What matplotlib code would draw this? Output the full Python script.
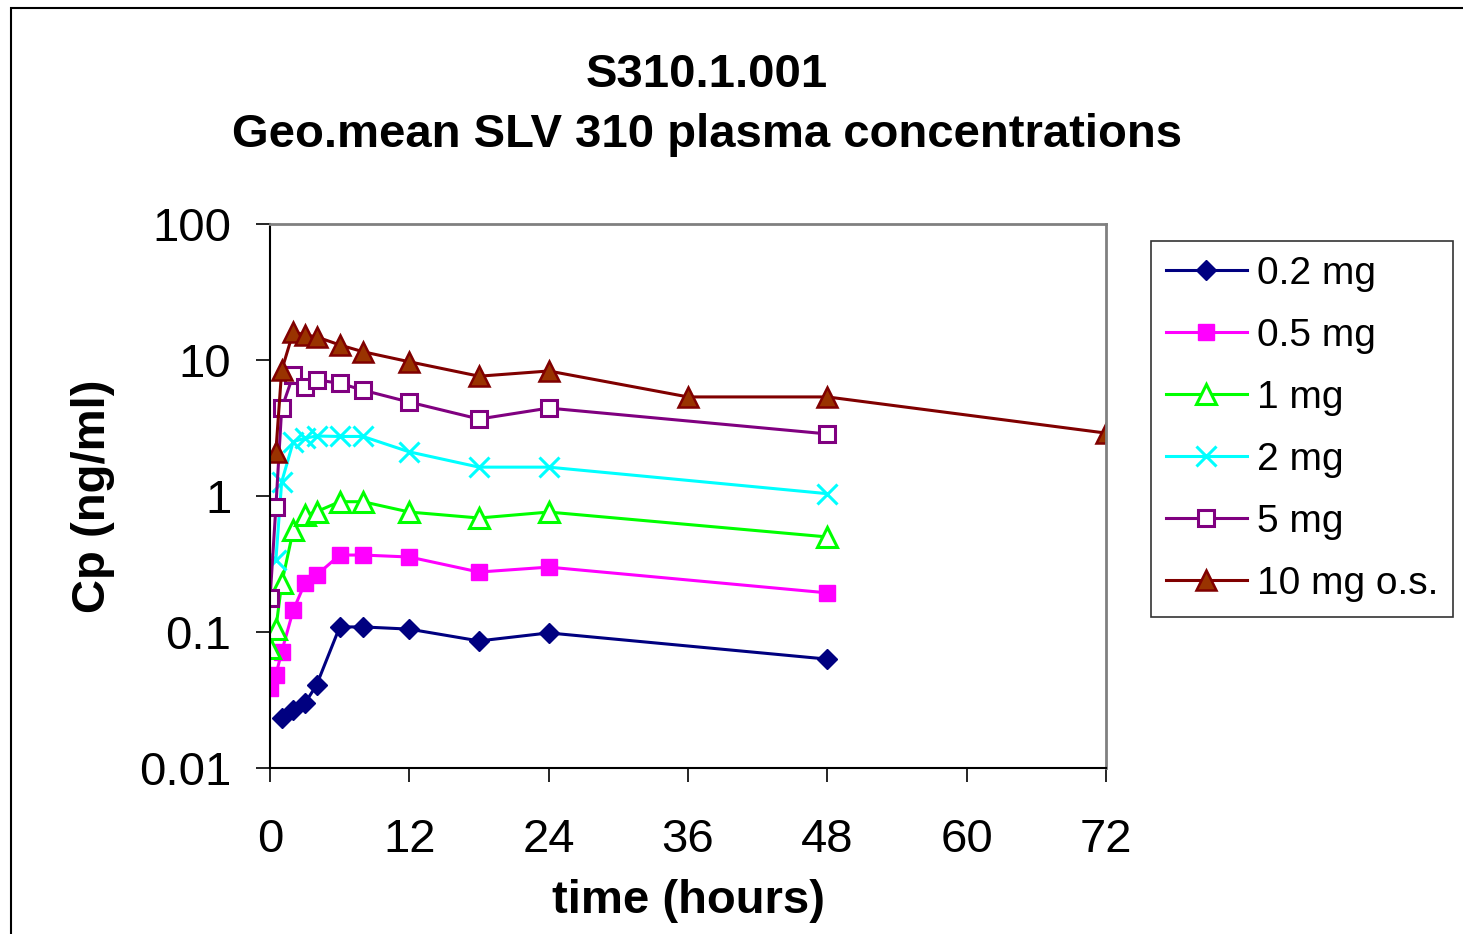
import matplotlib.pyplot as plt
from matplotlib.patches import Rectangle
from matplotlib.ticker import NullLocator

plt.rcParams['font.family'] = ['Liberation Sans', 'DejaVu Sans']

# sampling times (hours)
t_std = [0, 0.5, 1, 2, 3, 4, 6, 8, 12, 18, 24, 48]

# geo.mean concentrations (ng/ml)
t_02 = [1, 2, 3, 4, 6, 8, 12, 18, 24, 48]
cp_02 = [0.0232, 0.0267, 0.0299, 0.0407, 0.109, 0.109, 0.105, 0.086, 0.0985, 0.0632]

t_05 = t_std
cp_05 = [0.0386, 0.0483, 0.0716, 0.145, 0.228, 0.262, 0.368, 0.368, 0.356, 0.276, 0.30, 0.194]

t_1 = t_std
cp_1 = [0.0759, 0.106, 0.228, 0.562, 0.724, 0.767, 0.908, 0.908, 0.762, 0.689, 0.762, 0.50]

t_2 = [0.5, 1, 2, 3, 4, 6, 8, 12, 18, 24, 48]
cp_2 = [0.338, 1.27, 2.51, 2.66, 2.76, 2.74, 2.74, 2.11, 1.63, 1.63, 1.04]

t_5 = t_std
cp_5 = [0.177, 0.83, 4.4, 7.76, 6.37, 7.13, 6.75, 6.0, 4.9, 3.68, 4.43, 2.86]

t_10 = [0.5, 1, 2, 3, 4, 6, 8, 12, 18, 24, 36, 48, 72]
cp_10 = [2.12, 8.4, 16.1, 15.3, 14.8, 12.9, 11.5, 9.7, 7.6, 8.3, 5.35, 5.35, 2.9]

labels = ['0.2 mg', '0.5 mg', '1 mg', '2 mg', '5 mg', '10 mg o.s.']
x_ticks = [0, 12, 24, 36, 48, 60, 72]
y_ticks = [0.01, 0.1, 1, 10, 100]
y_tick_labels = ['0.01', '0.1', '1', '10', '100']

fig = plt.figure(figsize=(14.63, 9.34), dpi=100)
ax = fig.add_axes([0.1846, 0.1777, 0.5714, 0.5825])

# outer chart border
fig.patches.append(Rectangle((11 / 1463, -0.05), 1.2, 1 - 8 / 934 + 0.05,
                             transform=fig.transFigure, fill=False,
                             edgecolor='black', linewidth=1.5))

lw = 2.2
ax.plot(t_02, cp_02, color='#000080', lw=lw, marker='D', ms=10,
        mfc='#000080', mec='#000080', label=labels[0])
ax.plot(t_05, cp_05, color='#FF00FF', lw=lw, marker='s', ms=12,
        mfc='#FF00FF', mec='#FF00FF', label=labels[1])
ax.plot(t_1, cp_1, color='#00FF00', lw=lw, marker='^', ms=14,
        mfc='white', mec='#00FF00', mew=2.2, label=labels[2])
ax.plot(t_2, cp_2, color='#00FFFF', lw=lw, marker='x', ms=14,
        mec='#00FFFF', mew=2.2, label=labels[3])
ax.plot(t_5, cp_5, color='#800080', lw=lw, marker='s', ms=11.5,
        mfc='white', mec='#800080', mew=2.2, label=labels[4])
ax.plot(t_10, cp_10, color='#800000', lw=lw, marker='^', ms=14.5,
        mfc='#993300', mec='#800000', mew=1.8, label=labels[5])

ax.set_yscale('log')
ax.set_xlim(0, 72)
ax.set_ylim(0.01, 100)
ax.set_xticks(x_ticks)
ax.set_yticks(y_ticks)
ax.set_yticklabels(y_tick_labels)
ax.yaxis.set_minor_locator(NullLocator())

ax.tick_params(axis='both', direction='out', length=10, width=1.2, labelsize=34)
ax.tick_params(axis='y', pad=18)
ax.tick_params(axis='x', pad=26)

for s in ['top', 'right']:
    ax.spines[s].set_color('#808080')
    ax.spines[s].set_linewidth(2)
for s in ['left', 'bottom']:
    ax.spines[s].set_color('black')
    ax.spines[s].set_linewidth(1.5)

ax.set_xlabel('time (hours)', fontsize=34, fontweight='bold', labelpad=12)
ax.set_ylabel('Cp (ng/ml)', fontsize=34, fontweight='bold', labelpad=17)

fig.text(0.483, 0.920, 'S310.1.001', ha='center', va='center',
         fontsize=34, fontweight='bold')
fig.text(0.483, 0.855, 'Geo.mean SLV 310 plasma concentrations', ha='center',
         va='center', fontsize=34, fontweight='bold')

leg = ax.legend(loc='upper left', bbox_to_anchor=(1.0538, 0.9688),
                fontsize=28, frameon=True, fancybox=False, edgecolor='black',
                borderpad=0.38, labelspacing=0.67, handlelength=2.08,
                handletextpad=0.26, borderaxespad=0)
leg.get_frame().set_linewidth(1.2)

plt.savefig('out.png', dpi=100)
